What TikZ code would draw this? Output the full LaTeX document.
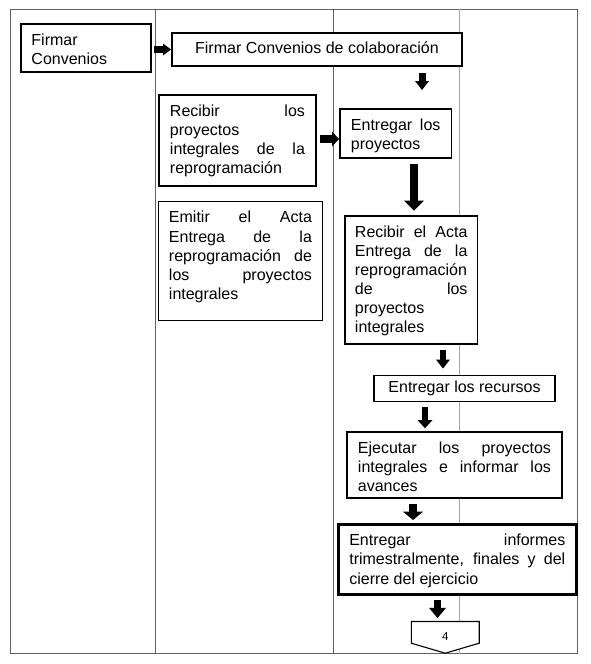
\documentclass[tikz,border=0pt]{standalone}
\usepackage{fontspec}
\setmainfont{Liberation Sans}
\usetikzlibrary{arrows.meta,calc}
\pgfdeclarelayer{lines}
\pgfdeclarelayer{under}
\pgfsetlayers{lines,under,main}
\newcommand{\JLine}[1]{\makebox[\linewidth][s]{#1}}
\newcommand{\FirstStrut}{\rule{0pt}{21.5pt}}
\newcommand{\BoxText}[3]{\parbox[t][#1][t]{#2}{\fontsize{16pt}{19.1pt}\selectfont\FirstStrut #3}}
\tikzset{
  pbox/.style={draw=black, line width=1.9pt, fill=white, inner ysep=0pt,
    minimum size=0pt, anchor=north west},
  cbox/.style={draw=black, line width=1.9pt, fill=white, inner sep=0pt,
    font=\fontsize{16pt}{19.1pt}\selectfont, text height=11.5pt, text depth=3.5pt},
  barrow/.style n args={3}{draw=black, line width=#1,
    -{Triangle[length=#3,width=#2,line width=0pt]}},
  framec/.style={draw=black!62, line width=1pt},
  lightc/.style={draw=black!35, line width=1pt}
}
\begin{document}
\begin{tikzpicture}[x=1pt,y=-1pt]
\useasboundingbox (0,0) rectangle (590,664);
% frame and lanes
\begin{pgfonlayer}{lines}
  \draw[framec] (10,9) rectangle (577,653.5);
  \draw[framec] (155,9) -- (155,653.5);
  \draw[framec] (333.3,9) -- (333.3,653.5);
  \draw[lightc] (459.5,9) -- (459.5,653.5);
\end{pgfonlayer}

% boxes
\node[pbox, inner xsep=10.5pt] (b1) at (20,23)
  {\BoxText{48pt}{109pt}{Firmar\\Convenios}};
\node[cbox, minimum width=290pt, minimum height=33pt] (b2) at (317,49.5)
  {Firmar Convenios de colaboración};
\node[pbox, inner xsep=11pt] (b3) at (158,94)
  {\BoxText{91pt}{135pt}{\JLine{Recibir los}\\proyectos\\\JLine{integrales de la}\\reprogramación}};
\node[pbox, inner xsep=11pt] (b4) at (339,108)
  {\BoxText{49pt}{89.5pt}{\JLine{Entregar los}\\proyectos}};
\node[pbox, inner xsep=10.5pt] (b5) at (157.5,200.5)
  {\BoxText{119pt}{143pt}{\JLine{Emitir el Acta}\\\JLine{Entrega de la}\\\JLine{reprogramación de}\\\JLine{los proyectos}\\integrales}};
\node[pbox, inner xsep=10pt] (b6) at (344,215)
  {\BoxText{128pt}{112.5pt}{\JLine{Recibir el Acta}\\\JLine{Entrega de la}\\reprogramación\\\JLine{de los}\\proyectos\\integrales}};
\node[cbox, minimum width=181pt, minimum height=26pt] (b7) at (464.5,388.5)
  {Entregar los recursos};
\node[pbox, inner xsep=11pt] (b8) at (346,431)
  {\BoxText{66pt}{193pt}{\JLine{Ejecutar los proyectos}\\\JLine{integrales e informar los}\\avances}};
\node[pbox, inner xsep=11pt, line width=2.6pt] (b9) at (337,523)
  {\BoxText{70pt}{216pt}{\JLine{Entregar informes}\\\JLine{trimestralmente, finales y del}\\cierre del ejercicio}};

% off-page connector
\node[inner sep=0pt, minimum width=67.5pt, minimum height=21.3pt,
      font=\fontsize{11.5pt}{13pt}\selectfont, text height=16.7pt, text depth=0pt] (c4) at (445.25,632.35) {4};
\begin{pgfonlayer}{under}
  \draw[black, line width=1.1pt, fill=white, line join=miter]
    (c4.north west) -- (c4.north east) -- (c4.south east)
    -- ([yshift=-10pt]c4.south) -- (c4.south west) -- cycle;
\end{pgfonlayer}

% helper coordinates for arrow positions
\coordinate (xa2) at (422,0);
\coordinate (a2e) at (422,90);
\coordinate (ya3) at (0,139);
\coordinate (xa4) at (414,0);
\coordinate (xa5) at (443,0);
\coordinate (xa6) at (425,0);
\coordinate (xa7) at (413,0);
\coordinate (xa8) at (437.5,0);

% arrows
\draw[barrow={6.5pt}{12pt}{8pt}, shorten <=2pt] (b2.west -| b1.east) -- (b2.west);
\draw[barrow={7pt}{14pt}{9pt}, shorten <=6pt] (b2.south -| xa2) -- (a2e);
\draw[barrow={8pt}{15pt}{7pt}, shorten <=3pt] (b3.east |- ya3) -- (b4.west |- ya3);
\draw[barrow={8pt}{20pt}{10pt}, shorten <=5pt, shorten >=4.3pt] (b4.south -| xa4) -- (b6.north -| xa4);
\draw[barrow={6pt}{14pt}{9pt}, shorten <=5pt, shorten >=6pt] (b6.south -| xa5) -- (b7.north -| xa5);
\draw[barrow={6.7pt}{15pt}{8.3pt}, shorten <=5pt, shorten >=2.7pt] (b7.south -| xa6) -- (b8.north -| xa6);
\draw[barrow={7.3pt}{20pt}{8.3pt}, shorten <=4.7pt, shorten >=3pt] (b8.south -| xa7) -- (b9.north -| xa7);
\draw[barrow={7.7pt}{17pt}{10.3pt}, shorten <=4.7pt, shorten >=3.4pt] (b9.south -| xa8) -- (c4.north -| xa8);
\end{tikzpicture}
\end{document}
